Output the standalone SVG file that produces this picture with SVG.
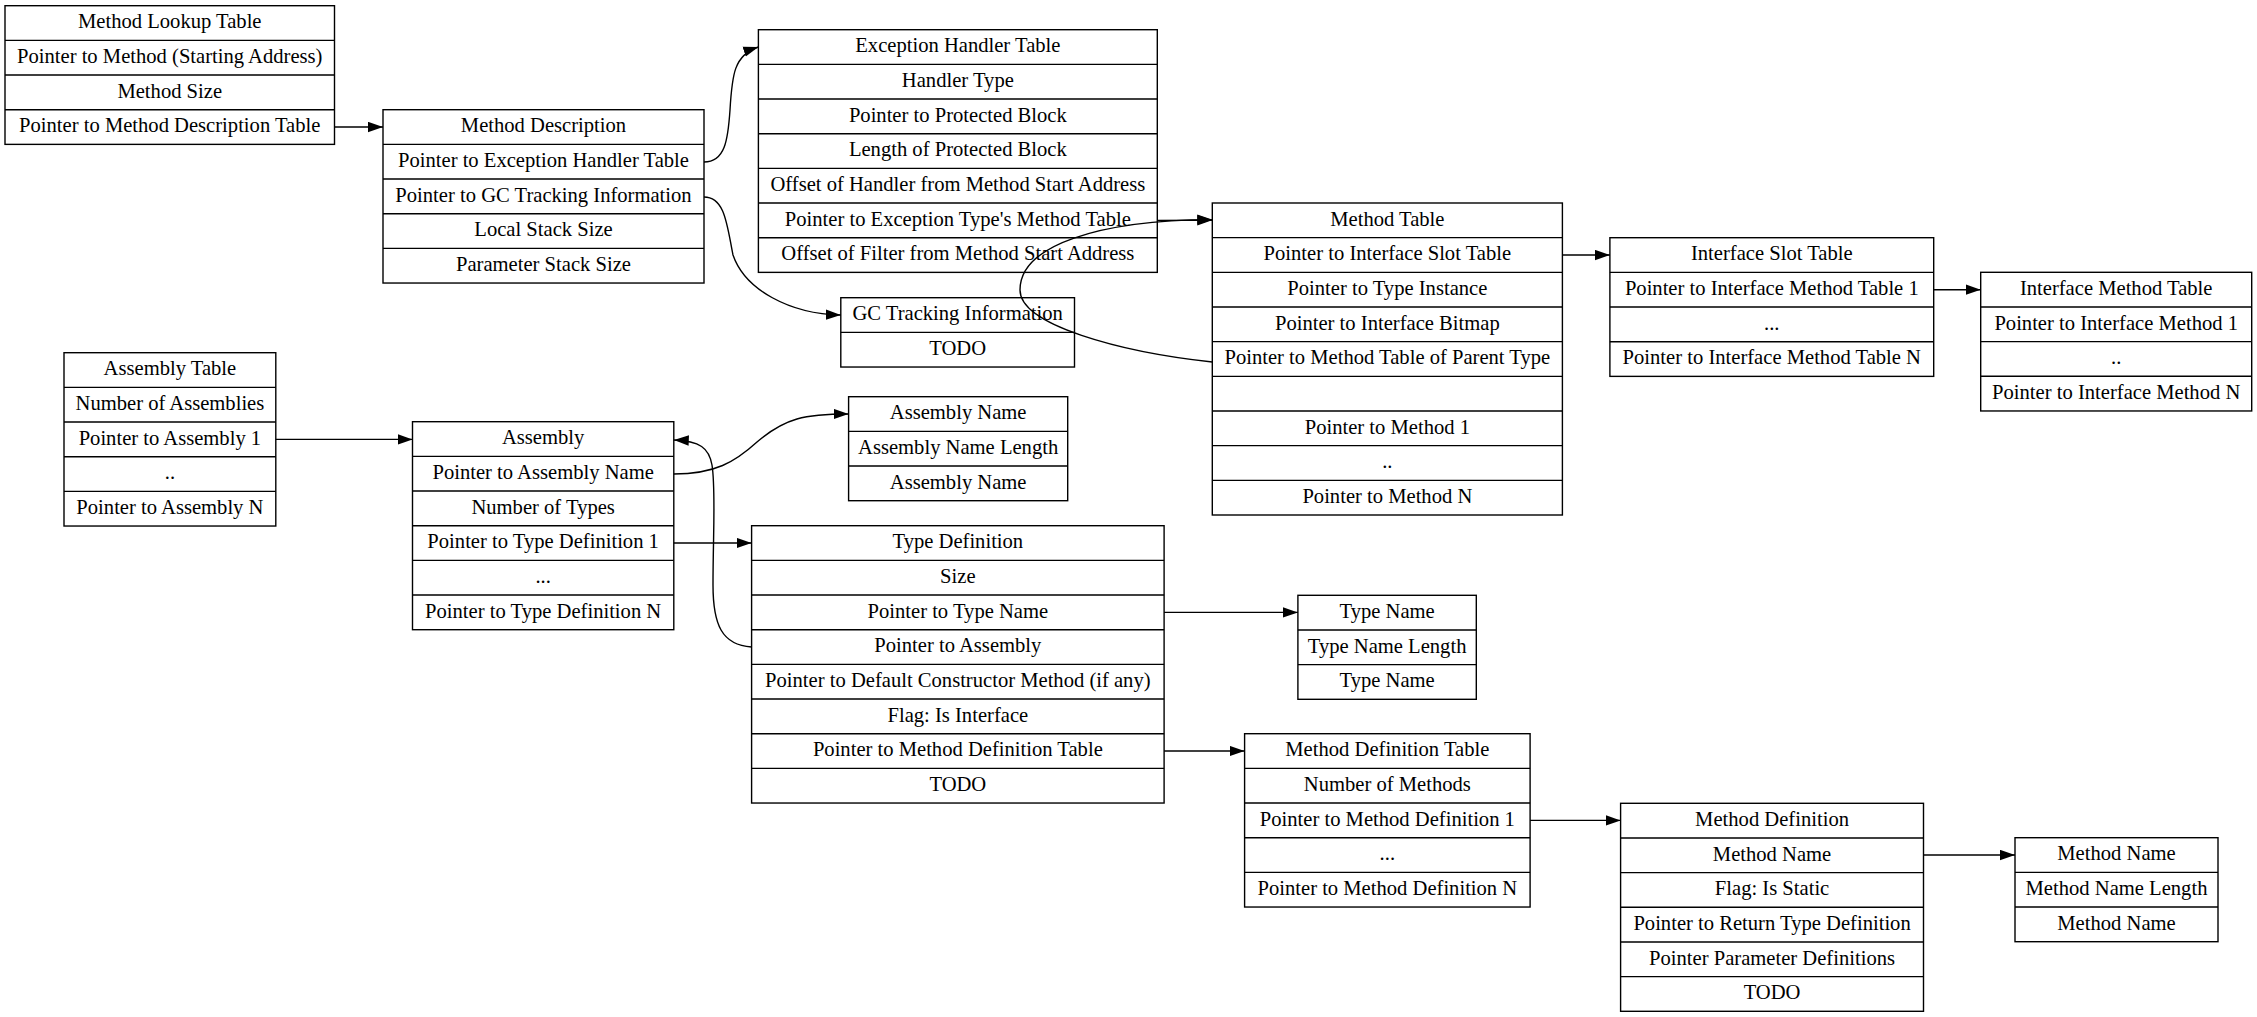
<svg xmlns="http://www.w3.org/2000/svg" width="2257" height="1017" viewBox="0 0 2257 1017">
<defs>
<style>
.box{fill:#fff;stroke:#000;stroke-width:1.4}
.div{stroke:#000;stroke-width:1.4}
.t{font-family:"Liberation Serif","DejaVu Serif","Times New Roman",serif;font-size:20.6px;text-anchor:middle;fill:#000}
.e{fill:none;stroke:#000;stroke-width:1.4}
</style>
<marker id="arr" markerUnits="userSpaceOnUse" markerWidth="15" markerHeight="11" refX="14.4" refY="5" orient="auto" viewBox="0 0 14.4 10">
<path d="M0,0 L14.4,5 L0,10 z" fill="#000"/>
</marker>
</defs>
<rect width="2257" height="1017" fill="#fff"/>

<g id="method_lookup_table">
<rect class="box" x="5" y="5.7" width="329.5" height="138.67"/>
<path class="div" d="M5,40.37H334.5M5,75.03H334.5M5,109.7H334.5"/>
<text class="t" x="169.75" y="28.3">Method Lookup Table</text>
<text class="t" x="169.75" y="62.97">Pointer to Method (Starting Address)</text>
<text class="t" x="169.75" y="97.63">Method Size</text>
<text class="t" x="169.75" y="132.3">Pointer to Method Description Table</text>
</g>

<g id="method_description">
<rect class="box" x="383" y="109.7" width="321" height="173.33"/>
<path class="div" d="M383,144.37H704M383,179.03H704M383,213.7H704M383,248.37H704"/>
<text class="t" x="543.5" y="132.3">Method Description</text>
<text class="t" x="543.5" y="166.97">Pointer to Exception Handler Table</text>
<text class="t" x="543.5" y="201.63">Pointer to GC Tracking Information</text>
<text class="t" x="543.5" y="236.3">Local Stack Size</text>
<text class="t" x="543.5" y="270.97">Parameter Stack Size</text>
</g>

<g id="exception_handler_table">
<rect class="box" x="758.4" y="29.7" width="398.9" height="242.67"/>
<path class="div" d="M758.4,64.37H1157.3M758.4,99.03H1157.3M758.4,133.7H1157.3M758.4,168.37H1157.3M758.4,203.03H1157.3M758.4,237.7H1157.3"/>
<text class="t" x="957.85" y="52.3">Exception Handler Table</text>
<text class="t" x="957.85" y="86.97">Handler Type</text>
<text class="t" x="957.85" y="121.63">Pointer to Protected Block</text>
<text class="t" x="957.85" y="156.3">Length of Protected Block</text>
<text class="t" x="957.85" y="190.97">Offset of Handler from Method Start Address</text>
<text class="t" x="957.85" y="225.63">Pointer to Exception Type's Method Table</text>
<text class="t" x="957.85" y="260.3">Offset of Filter from Method Start Address</text>
</g>

<g id="gc_tracking_information">
<rect class="box" x="840.8" y="297.7" width="233.7" height="69.33"/>
<path class="div" d="M840.8,332.37H1074.5"/>
<text class="t" x="957.65" y="320.3">GC Tracking Information</text>
<text class="t" x="957.65" y="354.97">TODO</text>
</g>

<g id="method_table">
<rect class="box" x="1212.3" y="203" width="350.1" height="312"/>
<path class="div" d="M1212.3,237.67H1562.4M1212.3,272.33H1562.4M1212.3,307H1562.4M1212.3,341.67H1562.4M1212.3,376.33H1562.4M1212.3,411H1562.4M1212.3,445.67H1562.4M1212.3,480.33H1562.4"/>
<text class="t" x="1387.35" y="225.6">Method Table</text>
<text class="t" x="1387.35" y="260.27">Pointer to Interface Slot Table</text>
<text class="t" x="1387.35" y="294.93">Pointer to Type Instance</text>
<text class="t" x="1387.35" y="329.6">Pointer to Interface Bitmap</text>
<text class="t" x="1387.35" y="364.27">Pointer to Method Table of Parent Type</text>
<text class="t" x="1387.35" y="433.6">Pointer to Method 1</text>
<text class="t" x="1387.35" y="468.27">..</text>
<text class="t" x="1387.35" y="502.93">Pointer to Method N</text>
</g>

<g id="interface_slot_table">
<rect class="box" x="1609.9" y="237.7" width="323.8" height="138.67"/>
<path class="div" d="M1609.9,272.37H1933.7M1609.9,307.03H1933.7M1609.9,341.7H1933.7"/>
<text class="t" x="1771.8" y="260.3">Interface Slot Table</text>
<text class="t" x="1771.8" y="294.97">Pointer to Interface Method Table 1</text>
<text class="t" x="1771.8" y="329.63">...</text>
<text class="t" x="1771.8" y="364.3">Pointer to Interface Method Table N</text>
</g>

<g id="interface_method_table">
<rect class="box" x="1980.7" y="272.3" width="271" height="138.67"/>
<path class="div" d="M1980.7,306.97H2251.7M1980.7,341.63H2251.7M1980.7,376.3H2251.7"/>
<text class="t" x="2116.2" y="294.9">Interface Method Table</text>
<text class="t" x="2116.2" y="329.57">Pointer to Interface Method 1</text>
<text class="t" x="2116.2" y="364.23">..</text>
<text class="t" x="2116.2" y="398.9">Pointer to Interface Method N</text>
</g>

<g id="assembly_table">
<rect class="box" x="64" y="352.7" width="211.8" height="173.33"/>
<path class="div" d="M64,387.37H275.8M64,422.03H275.8M64,456.7H275.8M64,491.37H275.8"/>
<text class="t" x="169.9" y="375.3">Assembly Table</text>
<text class="t" x="169.9" y="409.97">Number of Assemblies</text>
<text class="t" x="169.9" y="444.63">Pointer to Assembly 1</text>
<text class="t" x="169.9" y="479.3">..</text>
<text class="t" x="169.9" y="513.97">Pointer to Assembly N</text>
</g>

<g id="assembly">
<rect class="box" x="412.5" y="421.7" width="261.3" height="208"/>
<path class="div" d="M412.5,456.37H673.8M412.5,491.03H673.8M412.5,525.7H673.8M412.5,560.37H673.8M412.5,595.03H673.8"/>
<text class="t" x="543.15" y="444.3">Assembly</text>
<text class="t" x="543.15" y="478.97">Pointer to Assembly Name</text>
<text class="t" x="543.15" y="513.63">Number of Types</text>
<text class="t" x="543.15" y="548.3">Pointer to Type Definition 1</text>
<text class="t" x="543.15" y="582.97">...</text>
<text class="t" x="543.15" y="617.63">Pointer to Type Definition N</text>
</g>

<g id="assembly_name">
<rect class="box" x="848.6" y="396.7" width="219.1" height="104"/>
<path class="div" d="M848.6,431.37H1067.7M848.6,466.03H1067.7"/>
<text class="t" x="958.15" y="419.3">Assembly Name</text>
<text class="t" x="958.15" y="453.97">Assembly Name Length</text>
<text class="t" x="958.15" y="488.63">Assembly Name</text>
</g>

<g id="type_definition">
<rect class="box" x="751.6" y="525.7" width="412.5" height="277.33"/>
<path class="div" d="M751.6,560.37H1164.1M751.6,595.03H1164.1M751.6,629.7H1164.1M751.6,664.37H1164.1M751.6,699.03H1164.1M751.6,733.7H1164.1M751.6,768.37H1164.1"/>
<text class="t" x="957.85" y="548.3">Type Definition</text>
<text class="t" x="957.85" y="582.97">Size</text>
<text class="t" x="957.85" y="617.63">Pointer to Type Name</text>
<text class="t" x="957.85" y="652.3">Pointer to Assembly</text>
<text class="t" x="957.85" y="686.97">Pointer to Default Constructor Method (if any)</text>
<text class="t" x="957.85" y="721.63">Flag: Is Interface</text>
<text class="t" x="957.85" y="756.3">Pointer to Method Definition Table</text>
<text class="t" x="957.85" y="790.97">TODO</text>
</g>

<g id="type_name">
<rect class="box" x="1297.9" y="595.3" width="178.4" height="104"/>
<path class="div" d="M1297.9,629.97H1476.3M1297.9,664.63H1476.3"/>
<text class="t" x="1387.1" y="617.9">Type Name</text>
<text class="t" x="1387.1" y="652.57">Type Name Length</text>
<text class="t" x="1387.1" y="687.23">Type Name</text>
</g>

<g id="method_definition_table">
<rect class="box" x="1244.6" y="733.7" width="285.5" height="173.33"/>
<path class="div" d="M1244.6,768.37H1530.1M1244.6,803.03H1530.1M1244.6,837.7H1530.1M1244.6,872.37H1530.1"/>
<text class="t" x="1387.35" y="756.3">Method Definition Table</text>
<text class="t" x="1387.35" y="790.97">Number of Methods</text>
<text class="t" x="1387.35" y="825.63">Pointer to Method Definition 1</text>
<text class="t" x="1387.35" y="860.3">...</text>
<text class="t" x="1387.35" y="894.97">Pointer to Method Definition N</text>
</g>

<g id="method_definition">
<rect class="box" x="1620.6" y="803.3" width="302.9" height="208"/>
<path class="div" d="M1620.6,837.97H1923.5M1620.6,872.63H1923.5M1620.6,907.3H1923.5M1620.6,941.97H1923.5M1620.6,976.63H1923.5"/>
<text class="t" x="1772.05" y="825.9">Method Definition</text>
<text class="t" x="1772.05" y="860.57">Method Name</text>
<text class="t" x="1772.05" y="895.23">Flag: Is Static</text>
<text class="t" x="1772.05" y="929.9">Pointer to Return Type Definition</text>
<text class="t" x="1772.05" y="964.57">Pointer Parameter Definitions</text>
<text class="t" x="1772.05" y="999.23">TODO</text>
</g>

<g id="method_name">
<rect class="box" x="2015" y="837.7" width="203" height="104"/>
<path class="div" d="M2015,872.37H2218M2015,907.03H2218"/>
<text class="t" x="2116.5" y="860.3">Method Name</text>
<text class="t" x="2116.5" y="894.97">Method Name Length</text>
<text class="t" x="2116.5" y="929.63">Method Name</text>
</g>

<g id="edges">
<path class="e" marker-end="url(#arr)" d="M334.5,127 L383,127"/>
<path class="e" marker-end="url(#arr)" d="M704,162 C725,162 728,140 730,110 C732,75 734,55 758.4,47"/>
<path class="e" marker-end="url(#arr)" d="M704,197 C725,197 727,225 733,255 C745,290 790,314 840.8,315"/>
<path class="e" marker-end="url(#arr)" d="M1157.3,220.4 L1212.3,220.2"/>
<path class="e" marker-end="url(#arr)" d="M1212.3,362 C1120,352 1020,325 1020,290 C1020,245 1100,220 1212.3,219.6"/>
<path class="e" marker-end="url(#arr)" d="M1562.4,255 L1609.9,255"/>
<path class="e" marker-end="url(#arr)" d="M1933.7,289.7 L1980.7,289.7"/>
<path class="e" marker-end="url(#arr)" d="M275.8,439.4 L412.5,439.4"/>
<path class="e" marker-end="url(#arr)" d="M673.8,474 C715,474 735,462 757,442 C785,418 805,414 848.6,414"/>
<path class="e" marker-end="url(#arr)" d="M673.8,543 L751.6,543"/>
<path class="e" marker-end="url(#arr)" d="M751.6,647 C722,645 713,625 713,585 C713,535 716,490 712,465 C709,448 700,441 673.8,440"/>
<path class="e" marker-end="url(#arr)" d="M1164.1,612.4 L1297.9,612.4"/>
<path class="e" marker-end="url(#arr)" d="M1164.1,751 L1244.6,751"/>
<path class="e" marker-end="url(#arr)" d="M1530.1,820.4 L1620.6,820.4"/>
<path class="e" marker-end="url(#arr)" d="M1923.5,855 L2015,855"/>
</g>
</svg>
